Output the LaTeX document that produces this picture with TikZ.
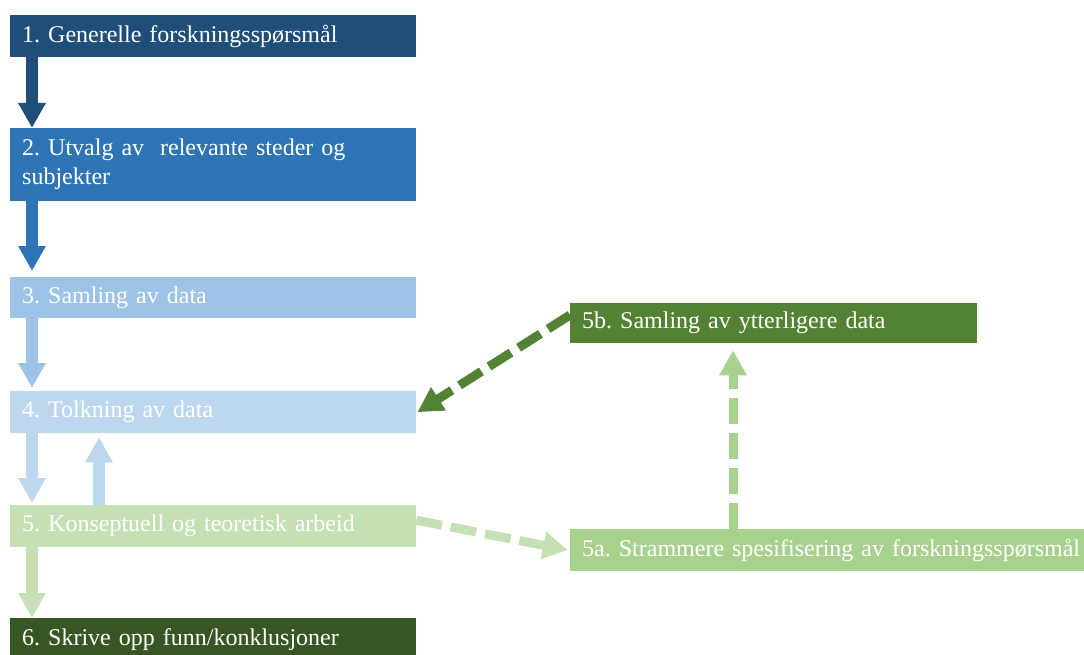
\documentclass[tikz,border=0pt]{standalone}
\usepackage{fontspec}
\setmainfont{Liberation Serif}
\usetikzlibrary{arrows.meta,calc}
\definecolor{stepone}{HTML}{1F4E79}
\definecolor{steptwo}{HTML}{2E75B6}
\definecolor{stepthree}{HTML}{9DC3E6}
\definecolor{stepfour}{HTML}{BDD7EE}
\definecolor{stepfive}{HTML}{C5E0B4}
\definecolor{stepsix}{HTML}{375623}
\definecolor{stepfiveb}{HTML}{548235}
\definecolor{stepfivea}{HTML}{A9D18E}
\frenchspacing
\hyphenpenalty=10000
\begin{document}
\begin{tikzpicture}[x=1pt,y=-1pt,
  stepbox/.style={anchor=north west, text=white, inner xsep=12pt, inner ysep=0pt,
    align=left, font=\fontsize{24}{29}\selectfont,
    minimum height=42pt, text width=#1},
  fatarrow/.style={line width=12pt, -{Triangle[width=26pt,length=25pt]}},
  dasharrow/.style={line width=9pt, dash pattern=on 26pt off 9pt,
    -{Triangle[width=26pt,length=25pt]}}
]
\useasboundingbox (0,0) rectangle (1084,655);
\clip (0,0) rectangle (1084,655);

% main column of steps
\node[stepbox=382pt, fill=stepone] (n1) at (10,15) {1. Generelle forskningsspørsmål};
\node[stepbox=382pt, fill=steptwo, minimum height=73pt] (n2) at (10,128)
  {2. Utvalg av~ relevante steder og\\subjekter};
\node[stepbox=382pt, fill=stepthree, minimum height=41pt] (n3) at (10,277) {3. Samling av data};
\node[stepbox=382pt, fill=stepfour] (n4) at (10,391) {4. Tolkning av data};
\node[stepbox=382pt, fill=stepfive] (n5) at (10,505) {5. Konseptuell og teoretisk arbeid};
\node[stepbox=382pt, fill=stepsix] (n6) at (10,618) {6. Skrive opp funn/konklusjoner};

% side branch
\node[stepbox=383pt, fill=stepfiveb, minimum height=40pt] (n5b) at (570,303) {5b. Samling av ytterligere data};
\node[stepbox=530pt, fill=stepfivea] (n5a) at (570,529) {5a. Strammere spesifisering av forskningsspørsmål};

% arrows down the main column
\draw[fatarrow, stepone] ($(n1.south west)+(22,0)$) -- ($(n2.north west)+(22,0)$);
\draw[fatarrow, steptwo, shorten >=6pt] ($(n2.south west)+(22,0)$) -- ($(n3.north west)+(22,0)$);
\draw[fatarrow, stepthree, shorten >=3pt] ($(n3.south west)+(22,0)$) -- ($(n4.north west)+(22,0)$);
\draw[fatarrow, stepfour, shorten >=2pt] ($(n4.south west)+(22,0)$) -- ($(n5.north west)+(22,0)$);
\draw[fatarrow, stepfour, shorten >=4pt] ($(n5.north west)+(89,0)$) -- ($(n4.south west)+(89,0)$);
\draw[fatarrow, stepfive] ($(n5.south west)+(22,0)$) -- ($(n6.north west)+(22,0)$);

% dashed loop through 5a and 5b
\draw[dasharrow, stepfive] ($(n5.east)+(0,-6)$) -- ($(n5a.west)+(-2,0)$);
\draw[dasharrow, stepfivea, shorten >=7pt] ($(n5a.north west)+(163,0)$) -- ($(n5b.south west)+(163,0)$);
\draw[dasharrow, stepfiveb] ($(n5b.north west)+(0,12)$) -- ($(n4.east)+(1,0)$);
\end{tikzpicture}
\end{document}
